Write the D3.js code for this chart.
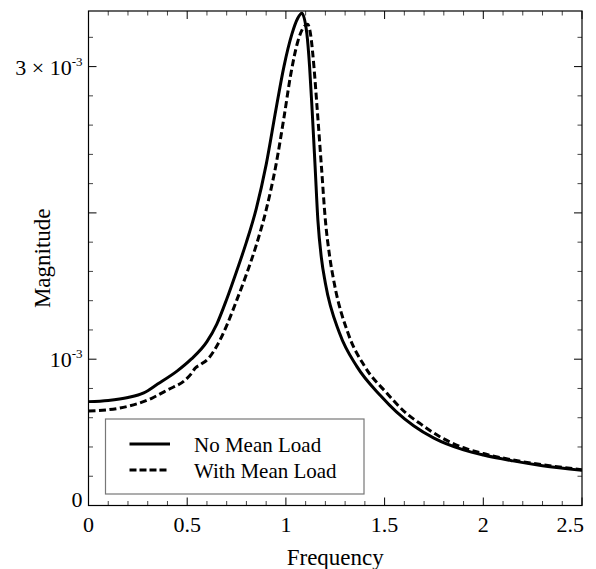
<!DOCTYPE html>
<html lang="en">
<head>
  <meta charset="UTF-8" />
  <title>Magnitude vs Frequency</title>
  <script src="https://d3js.org/d3.v7.min.js"></script>
  <style>
    body {
      margin: 0;
      background: #fff;
    }
    svg, svg text {
      font-family: "Liberation Serif", "Times New Roman", "DejaVu Serif", serif;
    }
  </style>
</head>
<body>
  <div id="chart"></div>
  <script>
    // frequency / magnitude (x 1e-3)
    const freqNoLoad = [0.00, 0.10, 0.20, 0.28, 0.35, 0.45, 0.52, 0.60, 0.65, 0.70, 0.75, 0.80, 0.85, 0.90, 0.95, 0.99, 1.03, 1.06, 1.081, 1.106, 1.120, 1.133, 1.148, 1.162, 1.180, 1.200, 1.272, 1.36, 1.48, 1.56, 1.647, 1.75, 1.90, 2.00, 2.15, 2.30, 2.50];
    const magNoLoad = [0.710, 0.718, 0.738, 0.770, 0.830, 0.920, 1.000, 1.120, 1.240, 1.410, 1.600, 1.800, 2.030, 2.330, 2.710, 3.000, 3.220, 3.330, 3.364, 3.227, 3.000, 2.700, 2.316, 1.950, 1.690, 1.519, 1.177, 0.949, 0.750, 0.640, 0.545, 0.460, 0.380, 0.345, 0.305, 0.272, 0.240];

    const freqWithLoad = [0.00, 0.15, 0.32, 0.40, 0.49, 0.52, 0.54, 0.57, 0.608, 0.65, 0.70, 0.75, 0.80, 0.85, 0.90, 0.95, 0.99, 1.025, 1.06, 1.09, 1.11, 1.125, 1.142, 1.158, 1.180, 1.200, 1.222, 1.245, 1.315, 1.40, 1.512, 1.61, 1.68, 1.78, 1.90, 2.00, 2.15, 2.30, 2.50];
    const magWithLoad = [0.646, 0.664, 0.733, 0.790, 0.858, 0.900, 0.938, 0.965, 1.006, 1.090, 1.230, 1.400, 1.580, 1.780, 2.020, 2.330, 2.650, 2.950, 3.170, 3.270, 3.290, 3.220, 3.000, 2.720, 2.316, 1.950, 1.700, 1.519, 1.177, 0.949, 0.767, 0.630, 0.560, 0.470, 0.395, 0.355, 0.311, 0.278, 0.245];

    const seriesNames = ["No Mean Load", "With Mean Load"];
    const xTicks = [0, 0.5, 1, 1.5, 2, 2.5];
    const xTickLabels = ["0", "0.5", "1", "1.5", "2", "2.5"];
    const yMajor = [0, 0.001, 0.002, 0.003];
    const yLabelVals = [0, 0.001, 0.003];
    const yLabelBase = ["0", "10", "3 \u00d7 10"];
    const yLabelExp = ["", "-3", "-3"];

    const W = 596, H = 569;
    const margin = { top: 11, right: 14, bottom: 63.5, left: 88.5 };
    const width = W - margin.left - margin.right;
    const height = H - margin.top - margin.bottom;
    const fontFam = '"Liberation Serif", "Times New Roman", "DejaVu Serif", serif';

    const svg = d3.select("#chart")
      .append("svg")
      .attr("width", W)
      .attr("height", H)
      .attr("font-family", fontFam);

    const g = svg.append("g")
      .attr("transform", `translate(${margin.left},${margin.top})`);

    const x = d3.scaleLinear().domain([0, 2.5]).range([0, width]);
    const y = d3.scaleLinear().domain([0, 0.00338]).range([height, 0]);

    // minor / major ticks on all four sides
    const xMinor = d3.range(0, 2.5001, 0.1).filter(v => !xTicks.some(t => Math.abs(t - v) < 1e-6));
    const yMinor = d3.range(0, 0.00338, 0.0002).filter(v => !yMajor.some(t => Math.abs(t - v) < 1e-9));

    const ticks = g.append("g").attr("stroke-width", 1);

    function xTick(v, len, color) {
      ticks.append("line").attr("x1", x(v)).attr("x2", x(v))
        .attr("y1", height).attr("y2", height - len).attr("stroke", color);
      ticks.append("line").attr("x1", x(v)).attr("x2", x(v))
        .attr("y1", 0).attr("y2", len).attr("stroke", color);
    }
    function yTick(v, len, color) {
      ticks.append("line").attr("y1", y(v)).attr("y2", y(v))
        .attr("x1", 0).attr("x2", len).attr("stroke", color);
      ticks.append("line").attr("y1", y(v)).attr("y2", y(v))
        .attr("x1", width).attr("x2", width - len).attr("stroke", color);
    }
    xMinor.forEach(v => xTick(v, 4.5, "#444"));
    xTicks.forEach(v => xTick(v, 8, "#000"));
    yMinor.forEach(v => yTick(v, 4.5, "#444"));
    yMajor.forEach(v => yTick(v, 8, "#000"));

    // curves
    const line = d3.line()
      .x(d => x(d[0]))
      .y(d => y(d[1] * 1e-3))
      .curve(d3.curveMonotoneX);

    const noLoad = freqNoLoad.map((f, i) => [f, magNoLoad[i]]);
    const withLoad = freqWithLoad.map((f, i) => [f, magWithLoad[i]]);

    g.append("clipPath").attr("id", "clip")
      .append("rect").attr("width", width).attr("height", height);

    const curves = g.append("g").attr("clip-path", "url(#clip)");
    curves.append("path")
      .datum(withLoad)
      .attr("fill", "none")
      .attr("stroke", "#000")
      .attr("stroke-width", 3)
      .attr("stroke-dasharray", "7,3.5")
      .attr("d", line);
    curves.append("path")
      .datum(noLoad)
      .attr("fill", "none")
      .attr("stroke", "#000")
      .attr("stroke-width", 3)
      .attr("d", line);

    // frame
    g.append("rect")
      .attr("width", width)
      .attr("height", height)
      .attr("fill", "none")
      .attr("stroke", "#000")
      .attr("stroke-width", 1.2);

    // x tick labels
    g.selectAll(".xlab")
      .data(xTicks)
      .enter()
      .append("text")
      .attr("class", "xlab")
      .attr("x", d => x(d))
      .attr("y", height + 26)
      .attr("text-anchor", (d, i) => i === xTicks.length - 1 ? "end" : "middle")
      .attr("dx", (d, i) => i === xTicks.length - 1 ? 2 : 0)
      .attr("font-size", 22)
      .text((d, i) => xTickLabels[i]);

    // y tick labels
    const ylab = g.selectAll(".ylab")
      .data(yLabelVals)
      .enter()
      .append("text")
      .attr("class", "ylab")
      .attr("x", -6)
      .attr("y", (d, i) => y(d) + (i === 0 ? 1 : 8))
      .attr("text-anchor", "end")
      .attr("font-size", 22);
    ylab.append("tspan").text((d, i) => yLabelBase[i]);
    ylab.append("tspan")
      .attr("font-size", 13)
      .attr("dy", -9)
      .text((d, i) => yLabelExp[i]);

    // axis titles
    g.append("text")
      .attr("x", width / 2)
      .attr("y", height + 59)
      .attr("text-anchor", "middle")
      .attr("font-size", 23)
      .text("Frequency");

    g.append("text")
      .attr("transform", "rotate(-90)")
      .attr("x", -height / 2)
      .attr("y", -margin.left + 50)
      .attr("text-anchor", "middle")
      .attr("font-size", 23)
      .text("Magnitude");

    // legend
    const lg = svg.append("g").attr("transform", "translate(105.5,419)");
    lg.append("rect")
      .attr("width", 258.5)
      .attr("height", 75)
      .attr("fill", "#fff")
      .attr("stroke", "#777")
      .attr("stroke-width", 1.2);

    seriesNames.forEach((name, i) => {
      const row = lg.append("g").attr("transform", `translate(0,${25 + i * 26})`);
      row.append("line")
        .attr("x1", 24).attr("x2", i === 0 ? 64.5 : 61)
        .attr("y1", 0).attr("y2", 0)
        .attr("stroke", "#000")
        .attr("stroke-width", 3)
        .attr("stroke-dasharray", i === 0 ? null : "7,3");
      row.append("text")
        .attr("x", 88.5)
        .attr("y", 7.5)
        .attr("font-size", 21)
        .text(name);
    });
  </script>
</body>
</html>
